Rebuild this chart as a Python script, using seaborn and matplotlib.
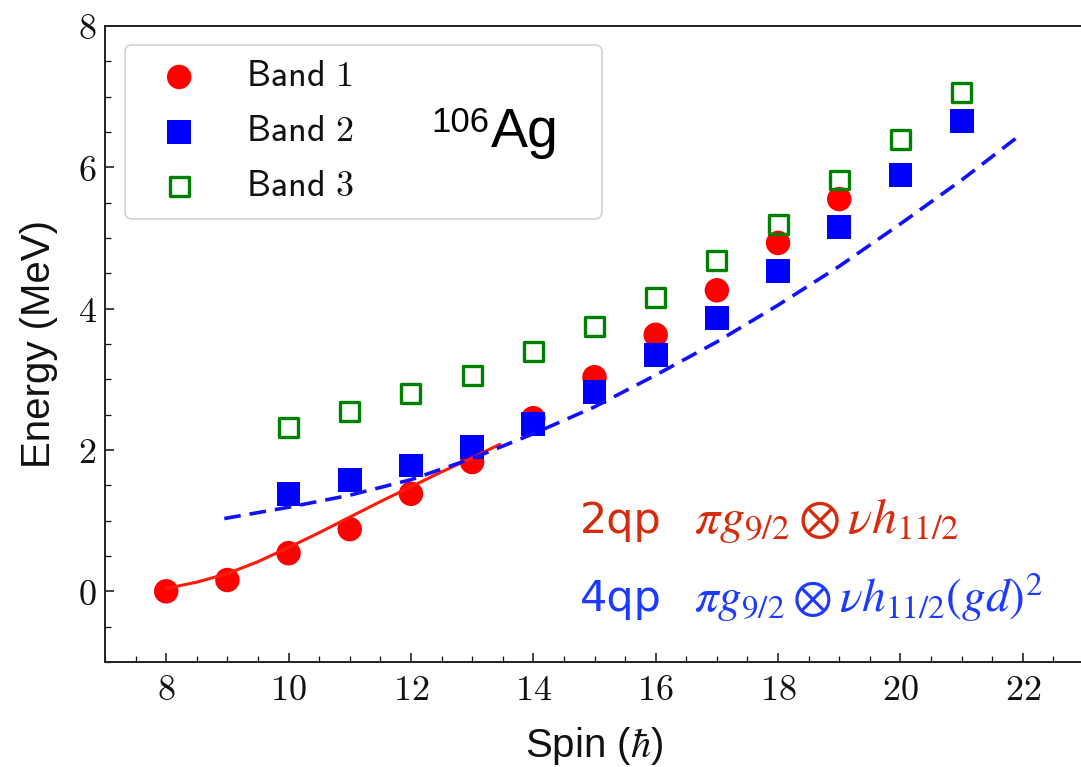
import matplotlib
matplotlib.use("Agg")
import matplotlib.pyplot as plt
from matplotlib.ticker import MultipleLocator, FuncFormatter
from matplotlib.font_manager import FontProperties
import seaborn as sns

# Experimental level energies (MeV) versus spin (hbar)
spin_band1 = [8, 9, 10, 11, 12, 13, 14, 15, 16, 17, 18, 19]
energy_band1 = [0.00, 0.16, 0.54, 0.88, 1.38, 1.83, 2.45, 3.03, 3.63, 4.26, 4.93, 5.55]

spin_band2 = [10, 11, 12, 13, 14, 15, 16, 17, 18, 19, 20, 21]
energy_band2 = [1.38, 1.57, 1.78, 2.04, 2.37, 2.82, 3.35, 3.87, 4.53, 5.16, 5.89, 6.66]

spin_band3 = [10, 11, 12, 13, 14, 15, 16, 17, 18, 19, 20, 21]
energy_band3 = [2.32, 2.55, 2.80, 3.06, 3.39, 3.75, 4.16, 4.68, 5.19, 5.82, 6.40, 7.06]

# Calculated 2qp and 4qp configurations
spin_2qp = [8.0, 8.5, 9, 9.5, 10, 10.5, 11, 11.5, 12, 12.5, 13, 13.45]
energy_2qp = [0.04, 0.13, 0.25, 0.42, 0.62, 0.83, 1.05, 1.27, 1.48, 1.69, 1.89, 2.08]

spin_4qp = [8.95, 10, 11, 12, 13, 14, 15, 16, 17, 18, 19, 20, 21, 21.9]
energy_4qp = [1.03, 1.19, 1.36, 1.58, 1.88, 2.23, 2.61, 3.06, 3.53, 4.05, 4.60, 5.20, 5.82, 6.42]

band_labels = [r"$\mathsf{Band\ 1}$", r"$\mathsf{Band\ 2}$", r"$\mathsf{Band\ 3}$"]

sns.set_style("ticks")
plt.rcParams["font.family"] = ["Liberation Sans", "DejaVu Sans"]
plt.rcParams["mathtext.fontset"] = "cm"

W, H = 1081, 767
fig = plt.figure(figsize=(W / 100, H / 100), dpi=100)
ax = fig.add_axes([105 / W, 1 - 662 / H, 979 / W, 636 / H])

sns.scatterplot(x=spin_band1, y=energy_band1, ax=ax, marker="o", s=310,
                color="#ff0000", edgecolor="none", linewidth=0,
                label=band_labels[0], zorder=3, legend=False)
sns.scatterplot(x=spin_band2, y=energy_band2, ax=ax, marker="s", s=295,
                color="#0000ff", edgecolor="none", linewidth=0,
                label=band_labels[1], zorder=3, legend=False)
sns.scatterplot(x=spin_band3, y=energy_band3, ax=ax, marker="s", s=185,
                facecolor="none", edgecolor="#008000", linewidth=2.4,
                label=band_labels[2], zorder=3, legend=False)

sns.lineplot(x=spin_2qp, y=energy_2qp, ax=ax, color="#ff1a0a", lw=2.2,
             zorder=4, legend=False)
sns.lineplot(x=spin_4qp, y=energy_4qp, ax=ax, color="#1010ff", lw=2.6,
             linestyle=(0, (4.6, 2.5)), zorder=4, legend=False)

ax.set_xlim(7, 23)
ax.set_ylim(-1, 8)
ax.xaxis.set_major_locator(MultipleLocator(2))
ax.xaxis.set_minor_locator(MultipleLocator(0.5))
ax.yaxis.set_major_locator(MultipleLocator(2))
ax.yaxis.set_minor_locator(MultipleLocator(0.5))
fmt = FuncFormatter(lambda v, p: f"${v:g}$")
ax.xaxis.set_major_formatter(fmt)
ax.yaxis.set_major_formatter(fmt)

ax.tick_params(which="both", direction="in", top=False, right=False,
               colors="#111111")
ax.tick_params(which="major", length=6.5, width=1.1, labelsize=26)
ax.tick_params(axis="x", which="major", pad=8)
ax.tick_params(axis="y", which="major", pad=6)
ax.tick_params(which="minor", length=4.2, width=0.9)
for sp in ax.spines.values():
    sp.set_linewidth(1.4)
    sp.set_color("#222222")

ax.set_xlabel(r"Spin ($\hbar$)", fontsize=29, labelpad=12, color="#111111")
ax.set_ylabel("Energy (MeV)", fontsize=29, labelpad=14, color="#111111")

handles = list(ax.collections[:3])
leg = ax.legend(handles=handles, labels=band_labels,
                bbox_to_anchor=(20 / 979, (662 - 210) / 636, 477 / 979, 165 / 636),
                loc="upper left", mode="expand", borderaxespad=0,
                prop=FontProperties(size=26), borderpad=0.4,
                handlelength=2.2, handletextpad=0.75, labelspacing=0.55,
                frameon=True, fancybox=True, framealpha=0.85,
                edgecolor="#cccccc", scatterpoints=1)
leg.get_frame().set_linewidth(1.2)
for t in leg.get_texts():
    t.set_color("#111111")

# Nucleus label inside the legend frame
fig.text(431 / W, 1 - 131.5 / H, "106", fontsize=25, color="black",
         ha="left", va="baseline", zorder=6)
fig.text(491 / W, 1 - 147 / H, "Ag", fontsize=40, color="black",
         ha="left", va="baseline", zorder=6)

# Configuration annotations
red_txt = "#d42c0e"
blue_txt = "#1d3bff"
fig.text(580 / W, 1 - 533 / H, "2qp", fontsize=31, color=red_txt,
         family="DejaVu Sans", ha="left", va="baseline")
fig.text(694 / W, 1 - 533 / H, r"$\pi g_{9/2} \otimes \nu h_{11/2}$",
         fontsize=36, color=red_txt, math_fontfamily="stix",
         ha="left", va="baseline")
fig.text(580 / W, 1 - 611.5 / H, "4qp", fontsize=31, color=blue_txt,
         family="DejaVu Sans", ha="left", va="baseline")
fig.text(694 / W, 1 - 611.5 / H, r"$\pi g_{9/2} \otimes \nu h_{11/2}(gd)^2$",
         fontsize=34, color=blue_txt, math_fontfamily="stix",
         ha="left", va="baseline")

fig.savefig("out.png", dpi=100)
